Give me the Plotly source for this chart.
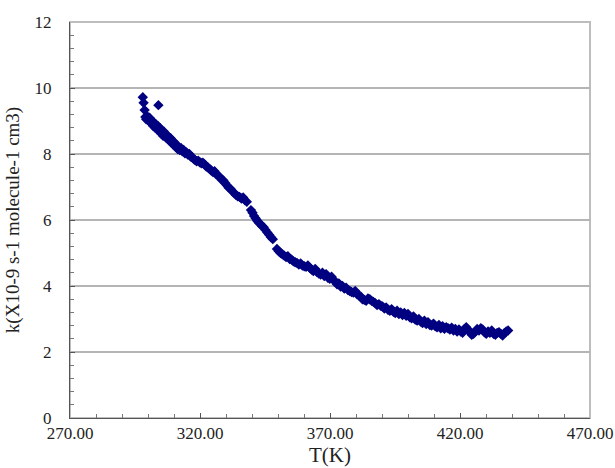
import plotly.graph_objects as go

T_vals = [
    298.0, 298.3, 298.7, 299.0, 299.3, 299.6, 300.0, 300.3, 300.6, 301.0, 301.3, 301.7, 302.0, 302.4, 302.7,
    303.0, 303.4, 303.8, 304.0, 304.3, 304.7, 305.0, 305.4, 305.8, 306.1, 306.5, 306.9, 307.2, 307.6, 308.0,
    308.3, 308.7, 309.1, 309.4, 309.8, 310.2, 310.6, 311.0, 311.4, 311.8,
    312.2, 312.7, 313.2, 313.7, 314.2, 314.8, 315.3, 315.9, 316.4, 317.0, 317.6, 318.1, 318.7, 319.3, 319.9,
    320.5, 321.1, 321.8, 322.4, 323.0, 323.7, 324.3, 325.0, 325.6, 326.3, 327.0, 327.6, 328.3, 329.0, 329.7,
    330.3, 331.0, 331.7, 332.4, 333.1, 333.8, 334.5, 335.2, 335.9, 336.6, 337.3, 338.0,
    339.6, 340.2, 340.8, 341.4, 342.0, 342.6, 343.2, 343.8, 344.5, 345.2, 345.9, 346.6, 347.3, 348.0,
    349.6, 350.3, 351.0, 351.7,
    352.4, 353.1, 353.8, 354.5, 355.2, 355.9, 356.6, 357.3, 358.0, 358.7, 359.4, 360.1, 360.8, 361.5, 362.2,
    362.9, 363.6, 364.3, 365.0, 365.7, 366.4, 367.1, 367.8, 368.5, 369.2, 369.9, 370.6, 371.3, 372.0, 372.7,
    373.4, 374.1, 374.8, 375.5, 376.2, 376.9, 377.6, 378.3, 379.0, 379.7, 380.4, 381.1, 381.8, 382.5, 383.2,
    383.9, 384.6,
    385.3, 386.0, 386.7, 387.4, 388.1, 388.8, 389.5, 390.2, 390.9, 391.6, 392.3, 393.0, 393.7, 394.4, 395.1,
    395.8, 396.5, 397.2, 397.9, 398.6, 399.3, 400.0, 400.7, 401.4, 402.1, 402.8, 403.5, 404.2, 404.9, 405.6,
    406.3, 407.0, 407.7, 408.4, 409.1, 409.8, 410.5, 411.2, 411.9, 412.6, 413.3, 414.0, 414.7, 415.4, 416.1,
    416.8, 417.5, 418.2, 418.9, 419.6,
    420.3, 421.0, 421.7, 422.4, 423.1, 423.8, 424.5, 425.2, 425.9, 426.6, 427.3, 428.0, 428.7, 429.4, 430.1,
    430.8, 431.5, 432.2, 432.9, 433.6, 434.3, 435.0, 435.7, 436.4, 437.1, 437.8, 438.5,
]

k_vals = [
    9.72, 9.55, 9.33, 9.12, 9.05, 9.15, 9.08, 9.00, 9.10, 8.95, 9.02, 8.90, 8.85, 8.95, 8.80,
    8.90, 8.75, 8.85, 9.48, 8.70, 8.78, 8.62, 8.70, 8.55, 8.68, 8.60, 8.50, 8.58, 8.45, 8.52,
    8.40, 8.48, 8.33, 8.40, 8.28, 8.35, 8.22, 8.28, 8.15, 8.20,
    8.12, 8.18, 8.08, 8.12, 8.02, 8.05, 7.98, 8.00, 7.92, 7.90, 7.85, 7.82, 7.78, 7.80, 7.75,
    7.72, 7.74, 7.68, 7.62, 7.60, 7.55, 7.50, 7.45, 7.48, 7.38, 7.35, 7.30, 7.22, 7.20, 7.12,
    7.05, 6.98, 6.95, 6.88, 6.82, 6.76, 6.72, 6.70, 6.65, 6.68, 6.60, 6.55,
    6.30, 6.22, 6.12, 6.05, 5.98, 5.92, 5.88, 5.82, 5.78, 5.70, 5.62, 5.55, 5.48, 5.42,
    5.12, 5.05, 5.00, 4.96,
    4.92, 4.88, 4.90, 4.82, 4.80, 4.75, 4.72, 4.70, 4.65, 4.68, 4.62, 4.60, 4.58, 4.62, 4.55,
    4.50, 4.45, 4.52, 4.42, 4.38, 4.35, 4.40, 4.30, 4.36, 4.25, 4.22, 4.28, 4.20, 4.12, 4.05,
    4.08, 3.98, 4.00, 3.92, 3.95, 3.88, 3.85, 3.82, 3.80, 3.85, 3.75, 3.72, 3.68, 3.60, 3.58,
    3.55, 3.62,
    3.60, 3.55, 3.52, 3.48, 3.42, 3.45, 3.40, 3.38, 3.32, 3.35, 3.28, 3.25, 3.30, 3.22, 3.18,
    3.25, 3.15, 3.20, 3.12, 3.18, 3.10, 3.15, 3.05, 3.02, 3.08, 2.98, 2.95, 3.00, 2.92, 2.88,
    2.95, 2.85, 2.90, 2.82, 2.80, 2.86, 2.78, 2.75, 2.82, 2.72, 2.78, 2.70, 2.75, 2.72, 2.68,
    2.74, 2.65, 2.70, 2.62, 2.68,
    2.62, 2.58, 2.70, 2.75, 2.68, 2.60, 2.52, 2.55, 2.62, 2.70, 2.65, 2.72, 2.68, 2.60, 2.55,
    2.62, 2.58, 2.65, 2.55, 2.52, 2.58, 2.60, 2.55, 2.50, 2.58, 2.62, 2.65,
]

x_ticks = [270, 320, 370, 420, 470]
x_tick_labels = ["270.00", "320.00", "370.00", "420.00", "470.00"]
y_ticks = [0, 2, 4, 6, 8, 10, 12]

SERIF = "Liberation Serif"
TXT = "#222222"

fig = go.Figure()
fig.add_trace(go.Scatter(
    x=T_vals, y=k_vals, mode="markers",
    marker=dict(symbol="diamond", size=8, color="#000080", line=dict(width=0)),
    showlegend=False,
))

fig.update_layout(
    width=615, height=468,
    margin=dict(l=70, r=25, t=22, b=50),
    paper_bgcolor="white", plot_bgcolor="white",
    font=dict(family=SERIF, color=TXT, size=17),
    shapes=[dict(type="rect", xref="paper", yref="paper", x0=0, y0=0, x1=1, y1=1,
                 line=dict(color="#bdbdbd", width=2), layer="below")],
    annotations=[dict(text="T(K)", xref="paper", yref="paper", x=0.5, y=-50 / 396,
                      xanchor="center", yanchor="bottom", showarrow=False, borderpad=0,
                      font=dict(family=SERIF, size=21, color=TXT))],
)

fig.update_xaxes(
    range=[270, 470], tickvals=x_ticks, ticktext=x_tick_labels,
    automargin=False,
    showgrid=False, zeroline=False,
    showline=True, linecolor="#555555", linewidth=1,
    ticks="inside", ticklen=5, tickcolor="#555555",
    minor=dict(dtick=10, ticks="inside", ticklen=4, tickcolor="#777777", showgrid=False),
    tickfont=dict(family=SERIF, size=17, color=TXT),
    ticklabelstandoff=0,
)
fig.update_yaxes(
    range=[0, 12], tickvals=y_ticks,
    automargin=False,
    showgrid=True, gridcolor="#b5b5b5", gridwidth=1.5, zeroline=False,
    showline=True, linecolor="#555555", linewidth=1,
    ticks="inside", ticklen=5, tickcolor="#555555",
    minor=dict(dtick=0.4, tick0=0, ticks="inside", ticklen=4, tickcolor="#777777", showgrid=False),
    tickfont=dict(family=SERIF, size=17, color=TXT),
    ticklabelstandoff=14,
    title=dict(text="k(X10-9 s-1 molecule-1 cm3)", font=dict(family=SERIF, size=19, color=TXT), standoff=9),
)

fig.write_html("out.html")
